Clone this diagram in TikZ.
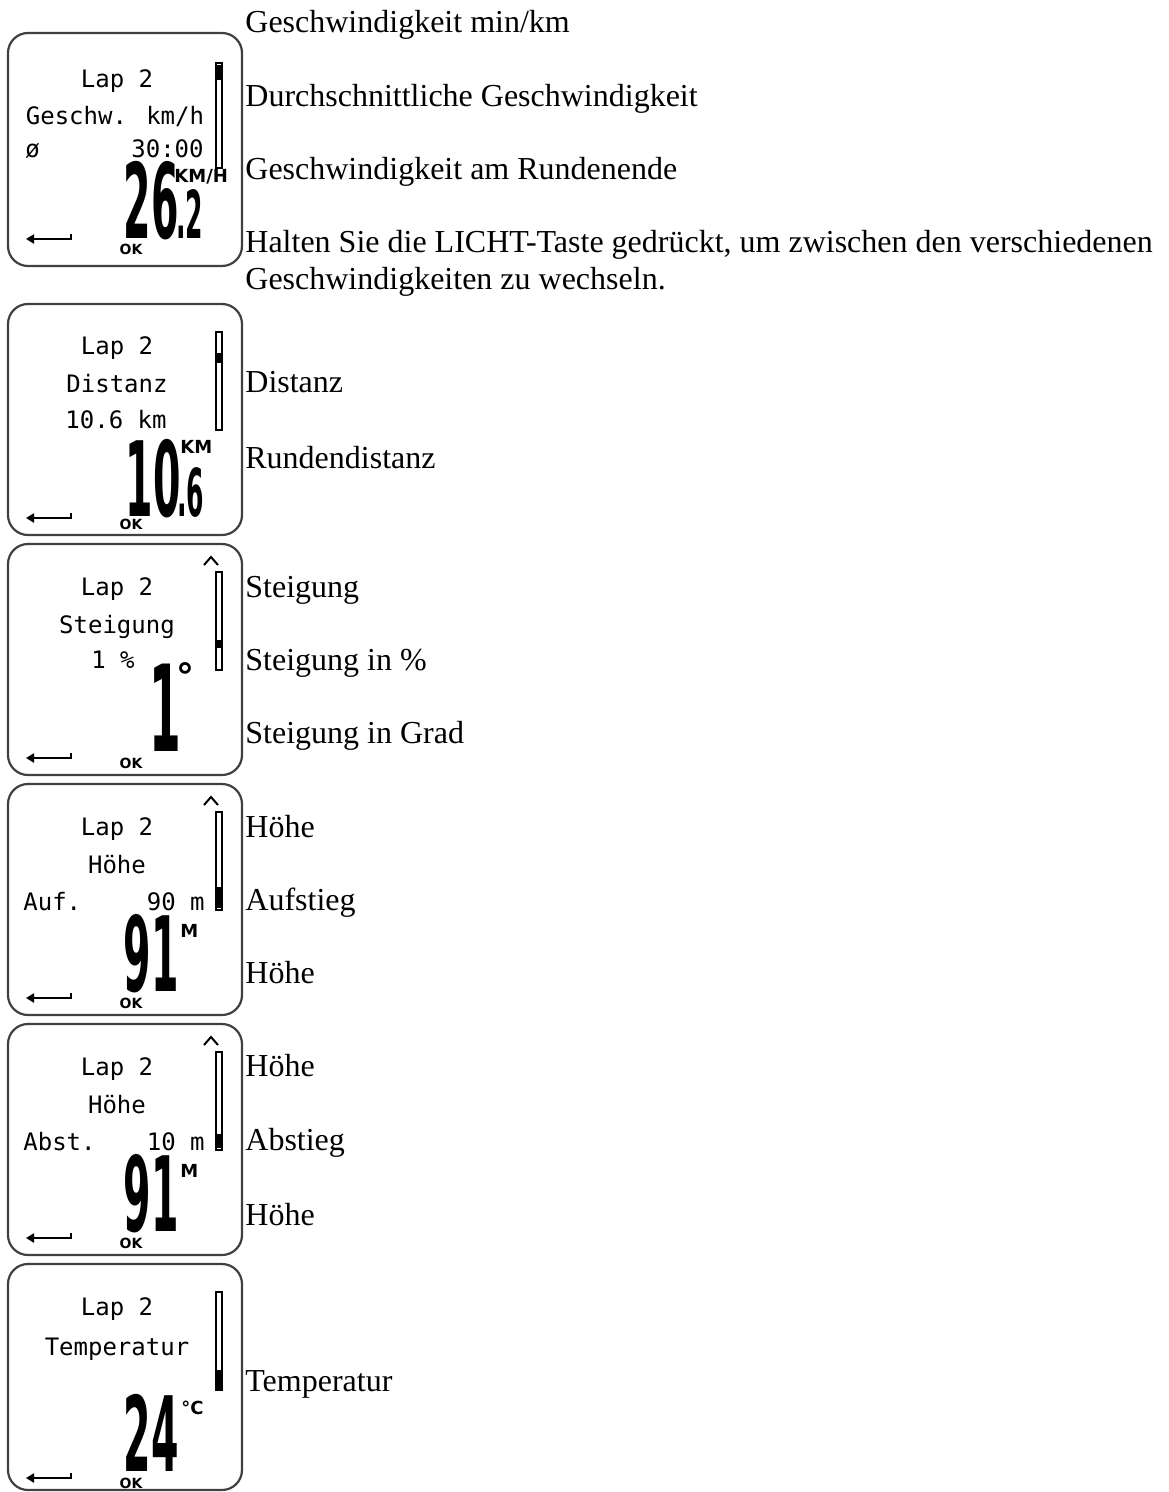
\documentclass[tikz,border=0pt]{standalone}
\usepackage{fontspec}
\setmainfont{Liberation Serif}
\newfontfamily\lcdfont{DejaVu Sans Mono}
\newfontfamily\lcdbig[FakeStretch=0.38]{DejaVu Sans}
\newfontfamily\lcdunit{DejaVu Sans}
\usetikzlibrary{arrows.meta}

\tikzset{
  screen/.style={draw=black!75, line width=1.1pt, rounded corners=10pt},
  lcd/.style={font=\lcdfont\fontsize{12}{12}\selectfont, inner sep=0pt},
  bigdigit/.style={font=\lcdbig\bfseries\fontsize{52}{52}\selectfont, inner sep=0pt, anchor=base east},
  smalldigit/.style={font=\lcdbig\bfseries\fontsize{33}{33}\selectfont, inner sep=0pt, anchor=base west},
  unit/.style={font=\lcdunit\bfseries\fontsize{9}{9}\selectfont, inner sep=0pt, anchor=base west},
  okkey/.style={font=\lcdunit\bfseries\fontsize{7}{7}\selectfont, inner sep=0pt},
  bar/.style={draw, line width=0.9pt, fill=white},
  back/.style={line width=1pt, -{Triangle[length=4pt,width=4.5pt]}},
  desc/.style={font=\fontsize{16}{18.5}\selectfont, inner sep=0pt, anchor=base west}
}

\begin{document}
\begin{tikzpicture}[x=0.5pt, y=-0.5pt]
\useasboundingbox (0,0) rectangle (1168,1492);

% screen 1: speed
\begin{scope}[shift={(0,33)}]
\draw[screen] (8,0) rectangle (242,233);
\node[lcd, anchor=base] (s1lap) at (117,55) {Lap 2};
\node[lcd, anchor=base] (s1name) at (115,92) {Geschw. km/h};
\node[lcd, anchor=base west] (s1avg) at (25,125) {ø};
\node[lcd, anchor=base east] (s1time) at (204,125) {30:00};
\node[bigdigit] (s1val) at (179,206) {26};
\node[smalldigit] (s1dec) at (176,206) {.2};
\node[unit] (s1unit) at (174,150) {KM/H};
\draw[bar] (216,30) rectangle (222,135);
\fill (216,32) rectangle (222,47);
\draw[back] (71,201) -- (71,206) -- (26,206);
\node[okkey] (s1ok) at (131,216) {OK};
\end{scope}

% screen 2: distance
\begin{scope}[shift={(0,304)}]
\draw[screen] (8,0) rectangle (242,231);
\node[lcd, anchor=base] (s2lap) at (117,51) {Lap 2};
\node[lcd, anchor=base] (s2name) at (117,89) {Distanz};
\node[lcd, anchor=base] (s2dist) at (116,124) {10.6 km};
\node[bigdigit] (s2val) at (181,212) {10};
\node[smalldigit] (s2dec) at (177,212) {.6};
\node[unit] (s2unit) at (180,149) {KM};
\draw[bar] (216,28) rectangle (222,126);
\fill (216,49) rectangle (222,59);
\draw[back] (71,209) -- (71,214) -- (26,214);
\node[okkey] (s2ok) at (131,220) {OK};
\end{scope}

% screen 3: slope
\begin{scope}[shift={(0,544)}]
\draw[screen] (8,0) rectangle (242,231);
\draw[line width=1pt] (204,21) -- (211,13) -- (218,21);
\node[lcd, anchor=base] (s3lap) at (117,51) {Lap 2};
\node[lcd, anchor=base] (s3name) at (117,89) {Steigung};
\node[lcd, anchor=base] (s3pct) at (113,124) {1 \%};
\node[bigdigit, font=\lcdbig\bfseries\fontsize{60}{60}\selectfont] (s3val) at (182,207) {1};
\node[unit, font=\lcdunit\bfseries\fontsize{18}{18}\selectfont] (s3unit) at (176,145) {°};
\draw[bar] (216,28) rectangle (222,126);
\fill (216,96) rectangle (222,104);
\draw[back] (71,209) -- (71,214) -- (26,214);
\node[okkey] (s3ok) at (131,219) {OK};
\end{scope}

% screen 4: altitude, ascent
\begin{scope}[shift={(0,784)}]
\draw[screen] (8,0) rectangle (242,231);
\draw[line width=1pt] (204,21) -- (211,13) -- (218,21);
\node[lcd, anchor=base] (s4lap) at (117,51) {Lap 2};
\node[lcd, anchor=base] (s4name) at (117,89) {Höhe};
\node[lcd, anchor=base west] (s4key) at (23,126) {Auf.};
\node[lcd, anchor=base east] (s4asc) at (205,126) {90 m};
\node[bigdigit] (s4val) at (179,207) {91};
\node[unit] (s4unit) at (180,153) {M};
\draw[bar] (216,28) rectangle (222,126);
\fill (216,103) rectangle (222,124);
\draw[back] (71,209) -- (71,214) -- (26,214);
\node[okkey] (s4ok) at (131,219) {OK};
\end{scope}

% screen 5: altitude, descent
\begin{scope}[shift={(0,1024)}]
\draw[screen] (8,0) rectangle (242,231);
\draw[line width=1pt] (204,21) -- (211,13) -- (218,21);
\node[lcd, anchor=base] (s5lap) at (117,51) {Lap 2};
\node[lcd, anchor=base] (s5name) at (117,89) {Höhe};
\node[lcd, anchor=base west] (s5key) at (23,126) {Abst.};
\node[lcd, anchor=base east] (s5desc) at (205,126) {10 m};
\node[bigdigit] (s5val) at (179,207) {91};
\node[unit] (s5unit) at (180,153) {M};
\draw[bar] (216,28) rectangle (222,126);
\fill (216,110) rectangle (222,124);
\draw[back] (71,209) -- (71,214) -- (26,214);
\node[okkey] (s5ok) at (131,219) {OK};
\end{scope}

% screen 6: temperature
\begin{scope}[shift={(0,1264)}]
\draw[screen] (8,0) rectangle (242,226);
\node[lcd, anchor=base] (s6lap) at (117,51) {Lap 2};
\node[lcd, anchor=base] (s6name) at (117,91) {Temperatur};
\node[bigdigit] (s6val) at (179,207) {24};
\node[unit] (s6unit) at (181,150) {°C};
\draw[bar] (216,28) rectangle (222,126);
\fill (216,106) rectangle (222,126);
\draw[back] (71,209) -- (71,214) -- (26,214);
\node[okkey] (s6ok) at (131,219) {OK};
\end{scope}

% descriptions
\node[desc] (t1a) at (245,33) {Geschwindigkeit min/km};
\node[desc] (t1b) at (245,107) {Durchschnittliche Geschwindigkeit};
\node[desc] (t1c) at (245,180) {Geschwindigkeit am Rundenende};
\node[desc] (t1d) at (245,253) {Halten Sie die LICHT-Taste gedrückt, um zwischen den verschiedenen};
\node[desc] (t1e) at (245,290) {Geschwindigkeiten zu wechseln.};
\node[desc] (t2a) at (245,393) {Distanz};
\node[desc] (t2b) at (245,468) {Rundendistanz};
\node[desc] (t3a) at (245,597) {Steigung};
\node[desc] (t3b) at (245,670) {Steigung in \%};
\node[desc] (t3c) at (245,743) {Steigung in Grad};
\node[desc] (t4a) at (245,837) {Höhe};
\node[desc] (t4b) at (245,910) {Aufstieg};
\node[desc] (t4c) at (245,983) {Höhe};
\node[desc] (t5a) at (245,1076) {Höhe};
\node[desc] (t5b) at (245,1150) {Abstieg};
\node[desc] (t5c) at (245,1225) {Höhe};
\node[desc] (t6a) at (245,1391) {Temperatur};
\end{tikzpicture}
\end{document}
